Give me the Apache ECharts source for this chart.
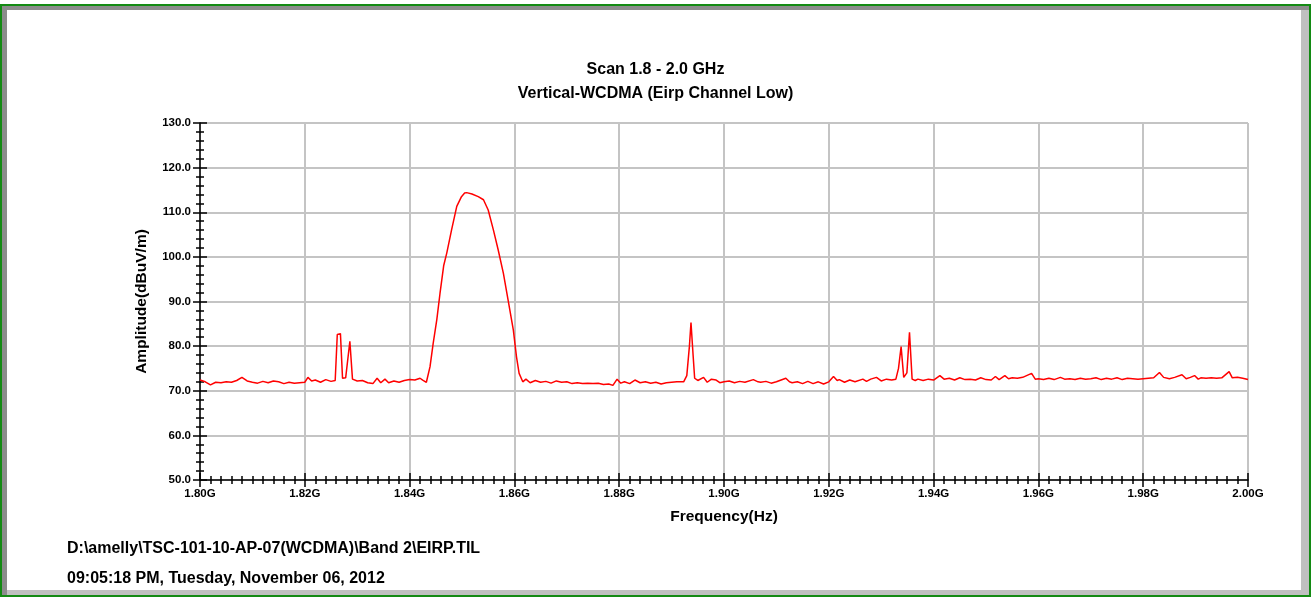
<!DOCTYPE html>
<html>
<head>
<meta charset="utf-8">
<script src="https://cdn.jsdelivr.net/npm/echarts@6/dist/echarts.min.js"></script>
<style>
  html, body { margin: 0; padding: 0; background: #fff; }
  #chart { width: 1311px; height: 597px; }
</style>
</head>
<body>
<div id="chart"></div>
<script>
// Scan 1.8 - 2.0 GHz, trace (frequency in MHz, amplitude in dBuV/m)
const titleText = 'Scan 1.8 - 2.0 GHz'
const subText = 'Vertical-WCDMA (Eirp Channel Low)'
const filePath = 'D:\\amelly\\TSC-101-10-AP-07(WCDMA)\\Band 2\\EIRP.TIL'
const stamp = '09:05:18 PM, Tuesday, November 06, 2012'

const freqs = [
  1800, 1801, 1802, 1803, 1804, 1805, 1806, 1807, 1808, 1809,
  1810, 1811, 1812, 1813, 1814, 1815, 1816, 1817, 1818, 1819,
  1820, 1820.6, 1821.3, 1822, 1823, 1824, 1825, 1825.8, 1826.2, 1826.8,
  1827.2, 1827.8, 1828.6, 1829.1, 1830, 1831, 1832, 1833, 1833.8, 1834.5,
  1835.3, 1836, 1837, 1838, 1839, 1840, 1841, 1842, 1842.5, 1843.2,
  1843.9, 1844.5, 1845.2, 1845.8, 1846.5, 1847.1, 1848, 1849, 1849.9, 1850.5,
  1850.9, 1851.9, 1853.1, 1854.1, 1855, 1856, 1856.9, 1857.9, 1858.8, 1859.8,
  1860.4, 1860.9, 1861.6, 1862.2, 1863, 1864, 1865, 1866, 1867, 1868,
  1869, 1870, 1871, 1872, 1873, 1874, 1875, 1876, 1877, 1878,
  1878.8, 1879.6, 1880.3, 1881, 1882, 1883, 1884, 1885, 1886, 1887,
  1888, 1889, 1890, 1891, 1892.3, 1892.9, 1893.4, 1893.7, 1894.1, 1894.4,
  1895, 1896.1, 1896.8, 1897.6, 1898.5, 1899.2, 1900, 1901, 1902, 1903,
  1904, 1905.6, 1906.5, 1907, 1908, 1909, 1910, 1911.8, 1912.5, 1913,
  1914, 1915, 1916, 1917, 1918, 1919, 1920, 1920.9, 1921.6, 1922,
  1923, 1924, 1925, 1926.5, 1927.2, 1928, 1929.1, 1930, 1931, 1932,
  1932.8, 1933.3, 1933.8, 1934.3, 1934.9, 1935.4, 1935.9, 1936.5, 1937, 1938,
  1939, 1940, 1941.2, 1942, 1943, 1944, 1945, 1946, 1947, 1948,
  1949, 1950, 1951, 1951.8, 1952.5, 1953.6, 1954.3, 1955, 1956, 1957,
  1958.7, 1959.4, 1960, 1961, 1962, 1963, 1964.2, 1965, 1966, 1967,
  1968, 1969, 1970, 1971, 1972, 1973, 1974, 1975, 1976, 1977,
  1978, 1979, 1980, 1981, 1982, 1983.1, 1983.9, 1985, 1986, 1987.4,
  1988.2, 1989, 1989.8, 1990.5, 1991, 1992, 1993, 1994, 1995, 1996.4,
  1997, 1998, 1999, 2000
]

const amps = [
  72.4, 72.0, 71.3, 71.9, 71.8, 72.0, 71.9, 72.3, 73.0, 72.2,
  71.9, 71.7, 72.1, 71.8, 72.2, 72.0, 71.6, 71.9, 71.7, 71.8,
  71.9, 73.0, 72.2, 72.4, 71.9, 72.5, 72.1, 72.3, 82.6, 82.8,
  72.8, 72.9, 81.1, 72.6, 72.2, 72.3, 71.8, 71.6, 72.8, 71.8,
  72.6, 71.8, 72.2, 71.9, 72.3, 72.5, 72.4, 72.8, 72.4, 71.9,
  75.4, 80.6, 86.0, 91.8, 98.0, 100.9, 106.0, 111.3, 113.5, 114.3,
  114.4, 114.1, 113.5, 112.8, 110.5, 106.0, 101.6, 96.3, 90.3, 83.6,
  77.6, 73.9, 72.0, 72.6, 71.8, 72.3, 71.9, 72.1, 71.7, 72.2,
  71.9, 72.0, 71.6, 71.8, 71.6, 71.7, 71.6, 71.7, 71.4, 71.5,
  71.2, 72.6, 71.7, 72.0, 71.6, 72.4, 71.8, 72.0, 71.7, 71.9,
  71.5, 71.8, 71.9, 72.0, 72.0, 73.4, 80.0, 85.3, 78.0, 72.8,
  72.3, 73.0, 71.9, 72.6, 72.4, 71.8, 72.0, 72.2, 71.8, 72.1,
  71.9, 72.5, 72.0, 71.9, 72.1, 71.7, 72.0, 72.8, 72.0, 71.8,
  72.0, 71.6, 72.1, 71.6, 72.0, 71.5, 72.0, 73.2, 72.3, 72.5,
  71.9, 72.4, 72.0, 72.6, 72.1, 72.6, 73.0, 72.2, 72.6, 72.4,
  72.6, 75.0, 79.9, 73.0, 74.0, 83.1, 72.6, 72.3, 72.6, 72.3,
  72.6, 72.4, 73.4, 72.6, 72.8, 72.4, 72.9, 72.5, 72.6, 72.4,
  72.9, 72.5, 72.4, 73.2, 72.5, 73.4, 72.7, 72.9, 72.8, 73.0,
  73.9, 72.6, 72.7, 72.5, 72.8, 72.5, 73.0, 72.6, 72.7, 72.5,
  72.8, 72.6, 72.7, 72.9, 72.5, 72.8, 72.6, 72.9, 72.5, 72.8,
  72.7, 72.6, 72.7, 72.8, 72.9, 74.1, 73.0, 72.7, 73.0, 73.6,
  72.7, 73.0, 73.4, 72.6, 72.9, 72.8, 72.9, 72.8, 72.9, 74.3,
  72.9, 73.0, 72.8, 72.5
]

const trace = freqs.map((f, i) => [f, amps[i]])

const font = '"Liberation Sans", Arial, sans-serif'
const bigSize = 15.5
const noteSize = 16
const chart = echarts.init(document.getElementById('chart'))

// two copies of each axis: one draws ticks outside, the other inside,
// so the ticks cross the axis line like in the original plot
const tickAxisX = (inside) => ({
  type: 'value',
  position: 'bottom',
  min: 1800,
  max: 2000,
  interval: 20,
  axisLine: { show: !inside, onZero: false, lineStyle: { color: '#000', width: 1.5 } },
  axisTick: { show: true, inside: inside, length: 7, lineStyle: { color: '#000', width: 1.5 } },
  minorTick: { show: true, splitNumber: 10, length: 4, lineStyle: { color: '#000', width: 1.5 } },
  axisLabel: {
    show: !inside,
    margin: 8,
    color: '#000',
    fontFamily: font,
    fontWeight: 'bold',
    fontSize: 11.5,
    formatter: (v) => (v / 1000).toFixed(2) + 'G'
  },
  splitLine: { show: !inside, lineStyle: { color: '#c4c4c4', width: 2 } },
  name: inside ? '' : 'Frequency(Hz)',
  nameLocation: 'middle',
  nameGap: 29,
  nameTextStyle: { color: '#000', fontFamily: font, fontWeight: 'bold', fontSize: bigSize }
})

const tickAxisY = (inside) => ({
  type: 'value',
  position: 'left',
  min: 50,
  max: 130,
  interval: 10,
  axisLine: { show: !inside, onZero: false, lineStyle: { color: '#000', width: 1.5 } },
  axisTick: { show: true, inside: inside, length: 7, lineStyle: { color: '#000', width: 1.5 } },
  minorTick: { show: true, splitNumber: 5, length: 4, lineStyle: { color: '#000', width: 1.5 } },
  axisLabel: {
    show: !inside,
    margin: 9,
    color: '#000',
    fontFamily: font,
    fontWeight: 'bold',
    fontSize: 11.5,
    formatter: (v) => v.toFixed(1)
  },
  splitLine: { show: !inside, lineStyle: { color: '#c4c4c4', width: 2 } },
  name: inside ? '' : 'Amplitude(dBuV/m)',
  nameLocation: 'middle',
  nameGap: 50,
  nameTextStyle: { color: '#000', fontFamily: font, fontWeight: 'bold', fontSize: bigSize }
})

const option = {
  animation: false,
  backgroundColor: '#fff',
  title: [
    {
      text: titleText,
      left: 'center',
      top: 57,
      textStyle: { color: '#000', fontFamily: font, fontWeight: 'bold', fontSize: noteSize }
    },
    {
      text: subText,
      left: 'center',
      top: 81,
      textStyle: { color: '#000', fontFamily: font, fontWeight: 'bold', fontSize: noteSize }
    }
  ],
  grid: { left: 200, right: 63, top: 123, bottom: 117 },
  xAxis: [tickAxisX(false), tickAxisX(true)],
  yAxis: [tickAxisY(false), tickAxisY(true)],
  series: [
    {
      type: 'line',
      data: trace,
      showSymbol: false,
      lineStyle: { color: '#ff0000', width: 1.5 },
      z: 3
    }
  ],
  graphic: [
    // window frame: green outline with grey bevel
    { type: 'rect', shape: { x: 0, y: 4, width: 1311, height: 593 }, style: { fill: '#138a13' }, z: -10 },
    { type: 'rect', shape: { x: 2, y: 6, width: 1307, height: 589 }, style: { fill: '#8c8c8c' }, z: -9 },
    { type: 'rect', shape: { x: 1301, y: 10, width: 8, height: 585 }, style: { fill: '#c0c0c0' }, z: -9 },
    { type: 'rect', shape: { x: 7, y: 590, width: 1302, height: 5 }, style: { fill: '#c0c0c0' }, z: -9 },
    { type: 'rect', shape: { x: 7, y: 10, width: 1294, height: 580 }, style: { fill: '#fff' }, z: -8 },
    {
      type: 'text',
      left: 67,
      top: 541,
      style: { text: filePath, fill: '#000', font: 'bold ' + noteSize + 'px ' + font }
    },
    {
      type: 'text',
      left: 67,
      top: 571,
      style: { text: stamp, fill: '#000', font: 'bold ' + noteSize + 'px ' + font }
    }
  ]
}

chart.setOption(option)
</script>
</body>
</html>
